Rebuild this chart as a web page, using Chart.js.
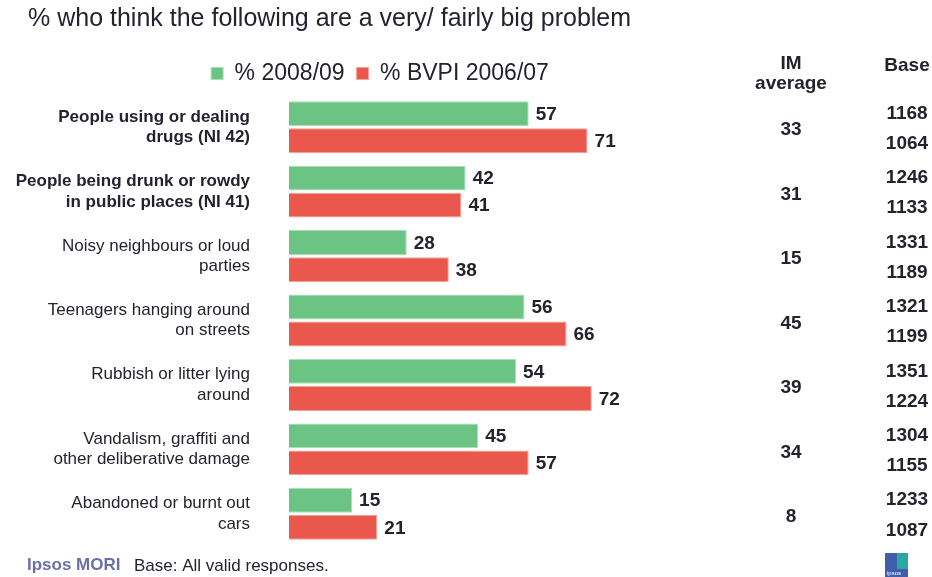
<!DOCTYPE html>
<html>
<head>
<meta charset="utf-8">
<script src="https://cdn.jsdelivr.net/npm/chart.js@4.4.1/dist/chart.umd.min.js"></script>
<style>
  html, body { margin: 0; padding: 0; background: #fff; }
  #wrap { width: 932px; height: 577px; }
</style>
</head>
<body>
<div id="wrap"><canvas id="grafico"></canvas></div>
<script>
// datos
const categorias = [
  ['People using or dealing', 'drugs (NI 42)'],
  ['People being drunk or rowdy', 'in public places (NI 41)'],
  ['Noisy neighbours or loud', 'parties'],
  ['Teenagers hanging around', 'on streets'],
  ['Rubbish or litter lying', 'around'],
  ['Vandalism, graffiti and', 'other deliberative damage'],
  ['Abandoned or burnt out', 'cars']
];
const valores2008 = [57, 42, 28, 56, 54, 45, 15];
const valoresBvpi = [71, 41, 38, 66, 72, 57, 21];
const mediaIM = [33, 31, 15, 45, 39, 34, 8];
const base2008 = [1168, 1246, 1331, 1321, 1351, 1304, 1233];
const baseBvpi = [1064, 1133, 1189, 1199, 1224, 1155, 1087];

const titulo = '% who think the following are a very/ fairly big problem';
const etiquetasNegrita = [0, 1];
const colorTexto = '#23232e';
const fuente = "'Liberation Sans', Arial, sans-serif";

// titulo alineado a la izquierda
const pluginTitulo = {
  id: 'titulo',
  afterDraw(chart) {
    const ctx = chart.ctx;
    ctx.save();
    ctx.font = `25px ${fuente}`;
    ctx.fillStyle = colorTexto;
    ctx.textAlign = 'left';
    ctx.textBaseline = 'middle';
    ctx.fillText(titulo, 28, 19);
    ctx.restore();
  }
};

// numeros al final de cada barra
const pluginValores = {
  id: 'valores',
  afterDatasetsDraw(chart) {
    const ctx = chart.ctx;
    ctx.save();
    ctx.font = `bold 19px ${fuente}`;
    ctx.fillStyle = colorTexto;
    ctx.textAlign = 'left';
    ctx.textBaseline = 'middle';
    chart.data.datasets.forEach((ds, i) => {
      chart.getDatasetMeta(i).data.forEach((bar, j) => {
        ctx.fillText(String(ds.data[j]), bar.x + 7, bar.y + 1);
      });
    });
    ctx.restore();
  }
};

// columnas IM average y Base, pie de pagina
const pluginColumnas = {
  id: 'columnas',
  afterDraw(chart) {
    const ctx = chart.ctx;
    const yScale = chart.scales.y;
    const verdes = chart.getDatasetMeta(0).data;
    const rojas = chart.getDatasetMeta(1).data;
    const xIM = 791, xBase = 907;
    ctx.save();
    ctx.fillStyle = colorTexto;
    ctx.textAlign = 'center';
    ctx.textBaseline = 'middle';
    ctx.font = `bold 19px ${fuente}`;
    ctx.fillText('IM', xIM, 64);
    ctx.fillText('average', xIM, 84);
    ctx.fillText('Base', xBase, 66);

    mediaIM.forEach((v, i) => {
      ctx.fillText(String(v), xIM, yScale.getPixelForValue(i) + 3);
    });
    base2008.forEach((v, i) => {
      ctx.fillText(String(v), xBase, verdes[i].y);
    });
    baseBvpi.forEach((v, i) => {
      ctx.fillText(String(v), xBase, rojas[i].y + 3);
    });

    // pie
    ctx.textAlign = 'left';
    ctx.font = `bold 17px ${fuente}`;
    ctx.fillStyle = '#6c70a8';
    ctx.fillText('Ipsos MORI', 27, 565);
    ctx.font = `17px ${fuente}`;
    ctx.fillStyle = colorTexto;
    ctx.fillText('Base: All valid responses.', 134, 566);

    // logo pequeño
    ctx.fillStyle = '#3f5fae';
    ctx.fillRect(885, 553, 23, 24);
    ctx.fillStyle = '#2aa7a0';
    ctx.fillRect(897, 553, 11, 16);
    ctx.fillStyle = '#ffffff';
    ctx.font = `6px ${fuente}`;
    ctx.fillText('ipsos', 887, 573);
    ctx.restore();
  }
};

const ctx = document.getElementById('grafico').getContext('2d');
const grafico = new Chart(ctx, {
  type: 'bar',
  data: {
    labels: categorias,
    datasets: [
      {
        label: '% 2008/09',
        data: valores2008,
        backgroundColor: '#6cc484',
        borderColor: '#a9dfb7',
        borderWidth: 1,
        barPercentage: 0.92,
        categoryPercentage: 0.84
      },
      {
        label: '% BVPI 2006/07',
        data: valoresBvpi,
        backgroundColor: '#ea584d',
        borderColor: '#f4a39c',
        borderWidth: 1,
        barPercentage: 0.92,
        categoryPercentage: 0.84
      }
    ]
  },
  options: {
    indexAxis: 'y',
    responsive: true,
    maintainAspectRatio: false,
    animation: false,
    layout: {
      padding: { left: 0, right: 172, top: 50, bottom: 31 }
    },
    plugins: {
      title: { display: false },
      legend: {
        display: true,
        position: 'top',
        labels: {
          color: colorTexto,
          boxWidth: 12,
          boxHeight: 12,
          padding: 12,
          font: { family: fuente, size: 23 }
        }
      },
      tooltip: { enabled: false }
    },
    scales: {
      x: {
        display: false,
        min: 0,
        max: 112
      },
      y: {
        afterFit: s => {
          s.width = 289;
          s.paddingTop = 0;
          s.paddingBottom = 0;
        },
        grid: { display: false, drawTicks: false },
        border: { display: false },
        ticks: {
          padding: 39,
          color: colorTexto,
          font: ctx => ({
            family: fuente,
            size: 17,
            lineHeight: 1.2,
            weight: etiquetasNegrita.includes(ctx.index) ? 'bold' : 'normal'
          })
        }
      }
    }
  },
  plugins: [pluginTitulo, pluginValores, pluginColumnas]
});
</script>
</body>
</html>
